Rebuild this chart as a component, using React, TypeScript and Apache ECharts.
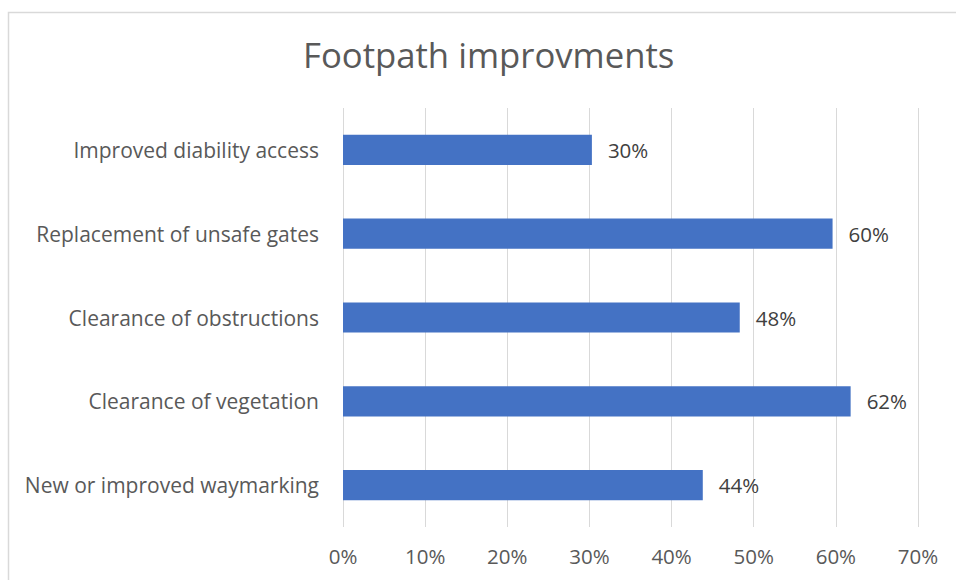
import React, { useEffect, useRef } from "react";
import * as echarts from "echarts";

const categories = [
  "New or improved waymarking",
  "Clearance of vegetation",
  "Clearance of obstructions",
  "Replacement of unsafe gates",
  "Improved diability access",
];
const values = [43.8, 61.8, 48.3, 59.6, 30.3];
const title = "Footpath improvments";

export default function App() {
  const ref = useRef<HTMLDivElement>(null);
  useEffect(() => {
    document.body.style.margin = "0";
    const chart = echarts.init(ref.current!, null, { renderer: "svg" });
    const font = "Open Sans";
    chart.setOption({
      animation: false,
      backgroundColor: "#ffffff",
      title: {
        text: title,
        left: 298,
        top: 32,
        textStyle: { fontFamily: font, fontSize: 34.7, fontWeight: "normal", color: "#595959" },
      },
      graphic: [
        {
          type: "rect",
          shape: { x: 8.5, y: 12.5, width: 1000, height: 1000 },
          style: { fill: "none", stroke: "#d9d9d9", lineWidth: 1.5 },
          silent: true,
        },
      ],
      grid: { left: 343, right: 38, top: 108, bottom: 53, containLabel: false },
      xAxis: {
        type: "value",
        min: 0,
        max: 70,
        interval: 10,
        axisLine: { show: false },
        axisTick: { show: false },
        splitLine: { show: true, lineStyle: { color: "#d9d9d9", width: 1 } },
        axisLabel: {
          formatter: "{value}%",
          fontFamily: font,
          fontSize: 20.5,
          color: "#595959",
          margin: 18,
        },
      },
      yAxis: {
        type: "category",
        data: categories,
        axisLine: { show: false },
        axisTick: { show: false },
        axisLabel: { fontFamily: font, fontSize: 21, color: "#595959", margin: 24 },
      },
      series: [
        {
          type: "bar",
          data: values,
          barWidth: "36%",
          itemStyle: { color: "#4472c4" },
          label: {
            show: true,
            position: "right",
            distance: 16,
            formatter: (p: any) => Math.round(p.value) + "%",
            fontFamily: font,
            fontSize: 20.5,
            color: "#404040",
          },
        },
      ],
    });
    return () => chart.dispose();
  }, []);
  return <div ref={ref} style={{ width: 956, height: 580 }} />;
}
